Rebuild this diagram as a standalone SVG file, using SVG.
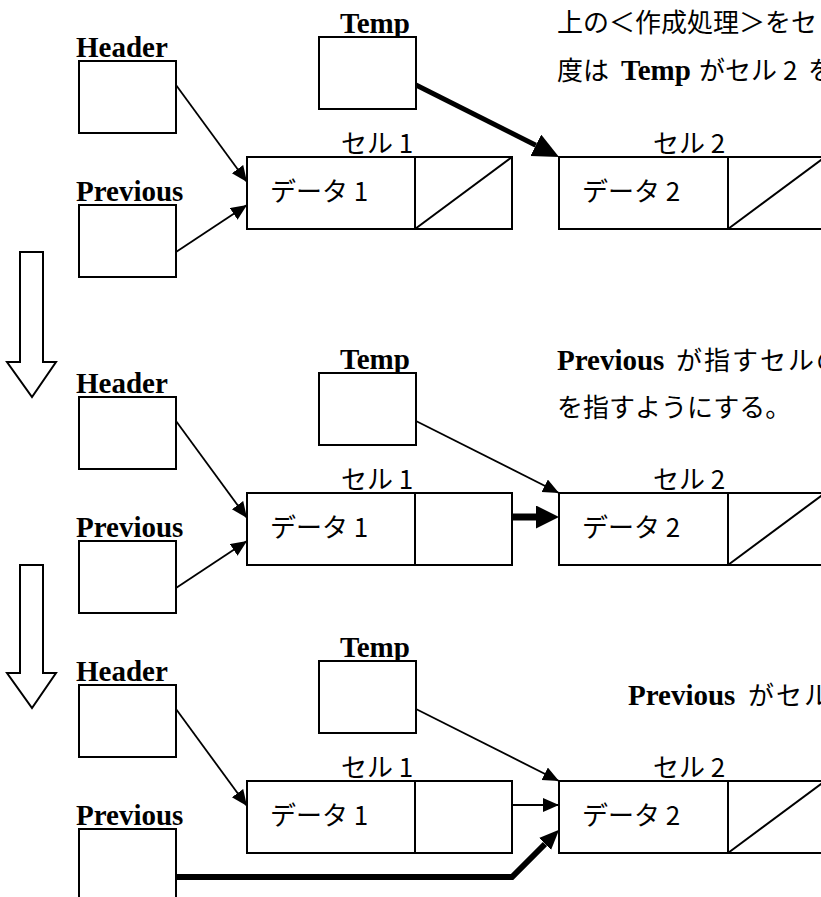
<svg xmlns="http://www.w3.org/2000/svg" width="821" height="897" viewBox="0 0 821 897">
  <style>
    .box { fill: #fff; stroke: #000; stroke-width: 2; }
    .edge { fill: none; stroke: #000; stroke-width: 2; }
    .lbl { font-family: "Liberation Serif", "Times New Roman", serif; font-weight: bold; font-size: 29px; fill: #000; }
    .jp { font-family: "Noto Sans CJK JP", "Noto Sans", sans-serif; font-size: 26px; fill: #000; }
    .wide { letter-spacing: 2px; }
    .wire { fill: none; stroke: #000; stroke-width: 1.8; }
    .bold5 { fill: none; stroke: #000; stroke-width: 5; }
    .bold7 { fill: none; stroke: #000; stroke-width: 7; }
    .bold6 { fill: none; stroke: #000; stroke-width: 6; stroke-linejoin: miter; }
    .step { fill: #fff; stroke: #000; stroke-width: 2; }
  </style>
  <defs>
    <marker id="tip" markerUnits="userSpaceOnUse" markerWidth="18" markerHeight="16" refX="16" refY="7" orient="auto">
      <path d="M0,0 L16,7 L0,14 z" fill="#000"/>
    </marker>
    <marker id="tipBig" markerUnits="userSpaceOnUse" markerWidth="28" markerHeight="26" refX="0" refY="12" orient="auto">
      <path d="M0,0 L26,12 L0,24 z" fill="#000"/>
    </marker>
    <marker id="tipMid" markerUnits="userSpaceOnUse" markerWidth="25" markerHeight="25" refX="0" refY="11.5" orient="auto">
      <path d="M0,0 L23,11.5 L0,23 z" fill="#000"/>
    </marker>
    <marker id="tipSm" markerUnits="userSpaceOnUse" markerWidth="22" markerHeight="18" refX="0" refY="8.5" orient="auto">
      <path d="M0,0 L20,8.5 L0,17 z" fill="#000"/>
    </marker>
  </defs>

  <!-- step arrows between the three stages -->
  <g id="steps">
    <path class="step" d="M20,252 H43 V362 H56 L32,397 L7,362 H20 Z"/>
    <path class="step" d="M20,565 H43 V673 H56 L32,708 L7,673 H20 Z"/>
  </g>

  <!-- stage 1: Temp is pointed at the new cell 2 -->
  <g id="stage1">
    <g id="s1-header">
      <text class="lbl" x="76" y="57">Header</text>
      <rect class="box" x="79" y="61" width="97" height="72"/>
    </g>
    <g id="s1-previous">
      <text class="lbl" x="76" y="201">Previous</text>
      <rect class="box" x="79" y="205" width="97" height="72"/>
    </g>
    <g id="s1-temp">
      <text class="lbl" x="340" y="33">Temp</text>
      <rect class="box" x="319" y="37" width="97" height="72"/>
    </g>
    <g id="s1-cell1">
      <text class="jp" x="341" y="153">セル 1</text>
      <rect class="box" x="247" y="157" width="265" height="72"/>
      <line class="edge" x1="415" y1="157" x2="415" y2="229"/>
      <line class="edge" x1="415" y1="229" x2="512" y2="157"/>
      <text class="jp" x="270" y="201">データ 1</text>
    </g>
    <g id="s1-cell2">
      <text class="jp" x="653" y="153">セル 2</text>
      <rect class="box" x="559" y="157" width="266" height="72"/>
      <line class="edge" x1="728" y1="157" x2="728" y2="229"/>
      <line class="edge" x1="728" y1="229" x2="825" y2="157"/>
      <text class="jp" x="582" y="201">データ 2</text>
    </g>
    <g id="s1-note">
      <text class="jp" x="557" y="32">上の＜作成処理＞をセ</text>
      <text y="80"><tspan class="jp" x="557">度は</tspan><tspan class="lbl" x="621" font-size="27">Temp</tspan><tspan class="jp" x="699">がセル</tspan><tspan class="jp" x="783">2</tspan><tspan class="jp" x="808">を</tspan></text>
    </g>
    <g id="s1-connectors">
      <line class="wire" x1="176" y1="85" x2="247" y2="182" marker-end="url(#tip)"/>
      <line class="wire" x1="176" y1="252" x2="247" y2="205" marker-end="url(#tip)"/>
      <line class="bold5" x1="416" y1="85" x2="535.8" y2="145.3" marker-end="url(#tipBig)"/>
    </g>
  </g>

  <!-- stage 2: cell 1 now links to cell 2 -->
  <g id="stage2" transform="translate(0,336)">
    <g id="s2-header">
      <text class="lbl" x="76" y="57">Header</text>
      <rect class="box" x="79" y="61" width="97" height="72"/>
    </g>
    <g id="s2-previous">
      <text class="lbl" x="76" y="201">Previous</text>
      <rect class="box" x="79" y="205" width="97" height="72"/>
    </g>
    <g id="s2-temp">
      <text class="lbl" x="340" y="33">Temp</text>
      <rect class="box" x="319" y="37" width="97" height="72"/>
    </g>
    <g id="s2-cell1">
      <text class="jp" x="341" y="153">セル 1</text>
      <rect class="box" x="247" y="157" width="265" height="72"/>
      <line class="edge" x1="415" y1="157" x2="415" y2="229"/>
      <text class="jp" x="270" y="201">データ 1</text>
    </g>
    <g id="s2-cell2">
      <text class="jp" x="653" y="153">セル 2</text>
      <rect class="box" x="559" y="157" width="266" height="72"/>
      <line class="edge" x1="728" y1="157" x2="728" y2="229"/>
      <line class="edge" x1="728" y1="229" x2="825" y2="157"/>
      <text class="jp" x="582" y="201">データ 2</text>
    </g>
    <g id="s2-note">
      <text y="34"><tspan class="lbl" x="557">Previous</tspan><tspan class="jp wide" x="676">が指すセルの</tspan></text>
      <text class="jp" x="557" y="81">を指すようにする。</text>
    </g>
    <g id="s2-connectors">
      <line class="wire" x1="176" y1="85" x2="247" y2="182" marker-end="url(#tip)"/>
      <line class="wire" x1="176" y1="252" x2="247" y2="205" marker-end="url(#tip)"/>
      <line class="wire" x1="416" y1="85" x2="559" y2="157" marker-end="url(#tip)"/>
      <line class="bold7" x1="512" y1="181" x2="536" y2="181" marker-end="url(#tipMid)"/>
    </g>
  </g>

  <!-- stage 3: Previous moves on to cell 2 -->
  <g id="stage3" transform="translate(0,624)">
    <g id="s3-header">
      <text class="lbl" x="76" y="57">Header</text>
      <rect class="box" x="79" y="61" width="97" height="72"/>
    </g>
    <g id="s3-previous">
      <text class="lbl" x="76" y="201">Previous</text>
      <rect class="box" x="79" y="205" width="97" height="72"/>
    </g>
    <g id="s3-temp">
      <text class="lbl" x="340" y="33">Temp</text>
      <rect class="box" x="319" y="37" width="97" height="72"/>
    </g>
    <g id="s3-cell1">
      <text class="jp" x="341" y="153">セル 1</text>
      <rect class="box" x="247" y="157" width="265" height="72"/>
      <line class="edge" x1="415" y1="157" x2="415" y2="229"/>
      <text class="jp" x="270" y="201">データ 1</text>
    </g>
    <g id="s3-cell2">
      <text class="jp" x="653" y="153">セル 2</text>
      <rect class="box" x="559" y="157" width="266" height="72"/>
      <line class="edge" x1="728" y1="157" x2="728" y2="229"/>
      <line class="edge" x1="728" y1="229" x2="825" y2="157"/>
      <text class="jp" x="582" y="201">データ 2</text>
    </g>
    <g id="s3-note">
      <text y="81"><tspan class="lbl" x="628">Previous</tspan><tspan class="jp wide" x="748">がセル</tspan></text>
    </g>
    <g id="s3-connectors">
      <line class="wire" x1="176" y1="85" x2="247" y2="182" marker-end="url(#tip)"/>
      <line class="wire" x1="416" y1="85" x2="559" y2="157" marker-end="url(#tip)"/>
      <line class="wire" x1="512" y1="181" x2="559" y2="181" marker-end="url(#tip)"/>
      <polyline class="bold6" points="176,253 512,253 545,220" marker-end="url(#tipSm)"/>
    </g>
  </g>
</svg>
